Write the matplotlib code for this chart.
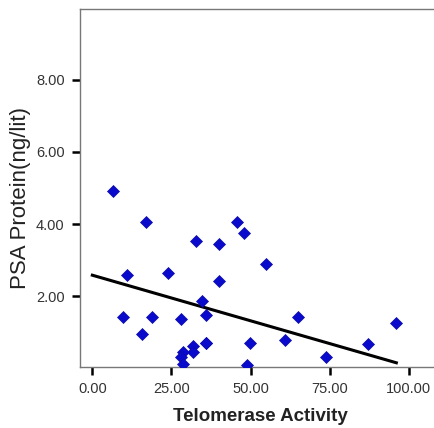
import matplotlib
matplotlib.use("Agg")
import matplotlib.pyplot as plt
import numpy as np

plt.rcParams["font.family"] = ["Liberation Sans", "DejaVu Sans"]

# telomerase activity vs PSA protein
telomerase = [6.6, 16.9, 10.9, 23.8, 9.8, 19.0, 15.8, 28.0, 32.9, 40.0,
              40.0, 34.7, 36.0, 36.0, 45.8, 47.8, 54.9, 49.9, 48.9, 64.9,
              60.8, 74.0, 87.1, 96.1, 31.9, 31.9, 28.8, 28.1, 28.8, 35.8]
psa = [4.93, 4.07, 2.58, 2.65, 1.41, 1.41, 0.96, 1.37, 3.52, 3.44,
       2.42, 1.85, 1.47, 0.69, 4.07, 3.76, 2.89, 0.69, 0.10, 1.41,
       0.79, 0.31, 0.66, 1.24, 0.62, 0.46, 0.45, 0.30, 0.11, 0.69]

# fit line as drawn in the chart
fit_x = [0.0, 96.1]
fit_intercept = 2.58
fit_slope = -0.0253

x_ticks = [0, 25, 50, 75, 100]
y_ticks = [2, 4, 6, 8]

W, H = 434, 428
fig = plt.figure(figsize=(W / 100, H / 100), dpi=100)
ax = fig.add_axes([80 / W, (H - 366.7) / H, (440 - 80) / W, (366.7 - 9.3) / H])

ax.plot(telomerase, psa, "D", color="#0a0acc", markersize=6.2,
        markeredgecolor="#0a0aaa", markeredgewidth=0.5, zorder=3)
fx = np.array(fit_x)
ax.plot(fx, fit_intercept + fit_slope * fx, color="black", lw=2.2, zorder=2)

ax.set_xlim(-3.9, 109.9)
ax.set_ylim(0.04, 9.96)
ax.set_xticks(x_ticks)
ax.set_xticklabels([f"{v:.2f}" for v in x_ticks])
ax.set_yticks(y_ticks)
ax.set_yticklabels([f"{v:.2f}" for v in y_ticks])

for s in ax.spines.values():
    s.set_color("#777777")
    s.set_linewidth(1.0)
ax.spines["right"].set_visible(False)

ax.tick_params(direction="out", length=6, width=1.8, color="black",
               labelsize=10.5, labelcolor="#333333", pad=5)

ax.set_xlabel("Telomerase Activity", fontsize=13.5, fontweight="bold",
              color="#222222", labelpad=9)
ax.set_ylabel("PSA Protein(ng/lit)", fontsize=16, color="#222222")
ax.yaxis.set_label_coords(-0.135, 0.472)

fig.savefig("out.png", dpi=100)
